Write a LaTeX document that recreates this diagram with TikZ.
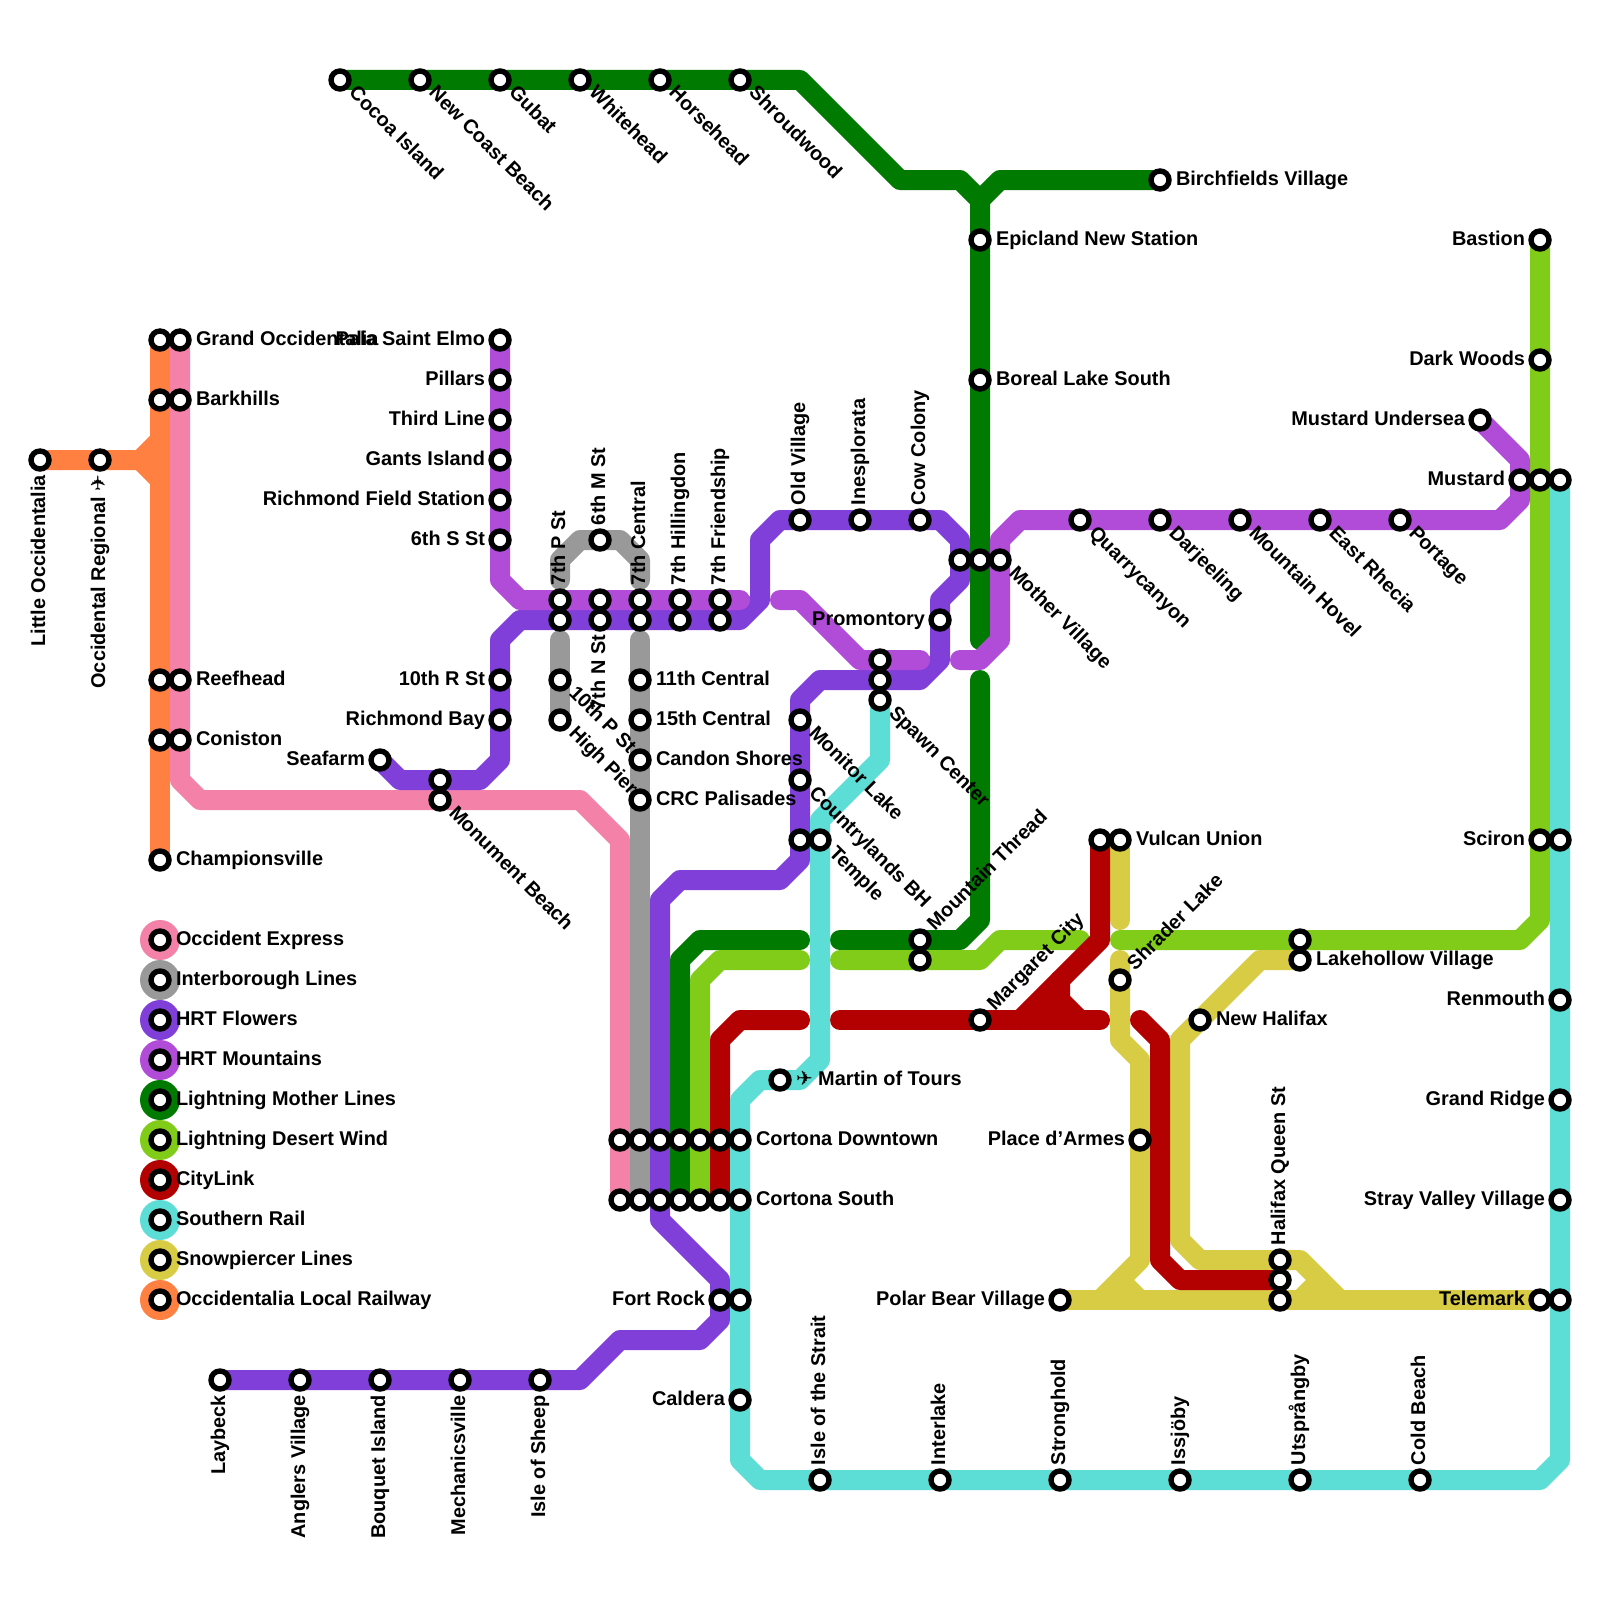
\documentclass[tikz,border=0pt]{standalone}
\usepackage{fontspec}
\setmainfont{Liberation Sans}
\newfontfamily\planefont{DejaVu Sans}
\usetikzlibrary{backgrounds}
\definecolor{cPink}{HTML}{F481A8}
\definecolor{cGray}{HTML}{999999}
\definecolor{cFlower}{HTML}{803FD8}
\definecolor{cMount}{HTML}{B14CD9}
\definecolor{cMother}{HTML}{007A00}
\definecolor{cDesert}{HTML}{80CC19}
\definecolor{cCity}{HTML}{B30000}
\definecolor{cSouth}{HTML}{5CDDD5}
\definecolor{cSnow}{HTML}{D8CC44}
\definecolor{cLocal}{HTML}{FF8040}
\newcommand{\planeglyph}{{\planefont\char"2708}}
\tikzset{
  stn/.style={circle,draw=black,fill=white,line width=5.4pt,minimum size=18pt,inner sep=0pt,outer sep=0pt},
  lbl/.style={font=\fontsize{19.9}{24}\selectfont\bfseries,inner sep=0pt,outer sep=0pt,text=black},
  lblR/.style={lbl,xshift=16pt,yshift=-5pt,anchor=base west},
  lblL/.style={lbl,xshift=-15pt,yshift=-5pt,anchor=base east},
  lblU/.style={lbl,xshift=5pt,yshift=15pt,rotate=90,anchor=base west},
  lblD/.style={lbl,xshift=5pt,yshift=-15pt,rotate=90,anchor=base east},
  lblDR/.style={lbl,xshift=8pt,yshift=-14pt,rotate=-45,anchor=base west},
  lblUR/.style={lbl,xshift=15pt,yshift=9pt,rotate=45,anchor=base west},
  route/.style={line width=20pt,line cap=round,line join=round},
  keydisc/.style={circle,minimum size=40pt,inner sep=0pt,outer sep=0pt},
}
\newcommand{\stlab}[5]{\node[stn] (#1) at (#2,#3) {};\node[#4] (#1-l) at (#1.center) {#5};}
\newcommand{\stopb}[3]{\node[stn] (#1) at (#2,#3) {};}
\newcommand{\keyitem}[4]{\node[keydisc,fill=#3] (#1-d) at (8,#2) {};\node[stn] (#1) at (8,#2) {};\node[lblR] (#1-l) at (#1.center) {#4};}
\begin{document}
\begin{tikzpicture}[x=20pt,y=-20pt]
\useasboundingbox (0,0) rectangle (80,80);
% ---- stations
\stlab{cocoa}{17}{4}{lblDR}{Cocoa Island}
\stlab{newcoast}{21}{4}{lblDR}{New Coast Beach}
\stlab{gubat}{25}{4}{lblDR}{Gubat}
\stlab{whitehead}{29}{4}{lblDR}{Whitehead}
\stlab{horsehead}{33}{4}{lblDR}{Horsehead}
\stlab{shroud}{37}{4}{lblDR}{Shroudwood}
\stlab{birch}{58}{9}{lblR}{Birchfields Village}
\stlab{epic}{49}{12}{lblR}{Epicland New Station}
\stlab{boreal}{49}{19}{lblR}{Boreal Lake South}
\stopb{motherF}{48}{28}
\stopb{motherG}{49}{28}
\stlab{motherM}{50}{28}{lblDR}{Mother Village}
\stlab{quarry}{54}{26}{lblDR}{Quarrycanyon}
\stlab{darj}{58}{26}{lblDR}{Darjeeling}
\stlab{hovel}{62}{26}{lblDR}{Mountain Hovel}
\stlab{rhecia}{66}{26}{lblDR}{East Rhecia}
\stlab{portage}{70}{26}{lblDR}{Portage}
\stlab{mustund}{74}{21}{lblL}{Mustard Undersea}
\stlab{mustM}{76}{24}{lblL}{Mustard}
\stopb{mustD}{77}{24}
\stopb{mustS}{78}{24}
\stlab{bastion}{77}{12}{lblL}{Bastion}
\stlab{dark}{77}{18}{lblL}{Dark Woods}
\stlab{scironD}{77}{42}{lblL}{Sciron}
\stopb{scironS}{78}{42}
\stlab{renmouth}{78}{50}{lblL}{Renmouth}
\stlab{gridge}{78}{55}{lblL}{Grand Ridge}
\stlab{stray}{78}{60}{lblL}{Stray Valley Village}
\stlab{telemS}{77}{65}{lblL}{Telemark}
\stopb{telemR}{78}{65}
\stopb{vulcanC}{55}{42}
\stlab{vulcanS}{56}{42}{lblR}{Vulcan Union}
\stlab{shrader}{56}{49}{lblUR}{Shrader Lake}
\stopb{lakeD}{65}{47}
\stlab{lakeS}{65}{48}{lblR}{Lakehollow Village}
\stlab{newhal}{60}{51}{lblR}{New Halifax}
\stlab{armes}{57}{57}{lblL}{Place d’Armes}
\stlab{queenS}{64}{63}{lblU}{Halifax Queen St}
\stopb{queenC}{64}{64}
\stopb{queenB}{64}{65}
\stlab{polar}{53}{65}{lblL}{Polar Bear Village}
\stlab{strait}{41}{74}{lblU}{Isle of the Strait}
\stlab{interl}{47}{74}{lblU}{Interlake}
\stlab{strong}{53}{74}{lblU}{Stronghold}
\stlab{issjo}{59}{74}{lblU}{Issjöby}
\stlab{utsp}{65}{74}{lblU}{Utsprångby}
\stlab{coldb}{71}{74}{lblU}{Cold Beach}
\stlab{caldera}{37}{70}{lblL}{Caldera}
\stlab{fortF}{36}{65}{lblL}{Fort Rock}
\stopb{fortS}{37}{65}
\stopb{cdP}{31}{57}\stopb{cdG}{32}{57}\stopb{cdF}{33}{57}\stopb{cdM}{34}{57}\stopb{cdW}{35}{57}\stopb{cdC}{36}{57}
\stlab{cdS}{37}{57}{lblR}{Cortona Downtown}
\stopb{csP}{31}{60}\stopb{csG}{32}{60}\stopb{csF}{33}{60}\stopb{csM}{34}{60}\stopb{csW}{35}{60}\stopb{csC}{36}{60}
\stlab{csS}{37}{60}{lblR}{Cortona South}
\stlab{martin}{39}{54}{lblR}{\planeglyph\ Martin of Tours}
\stopb{templeF}{40}{42}
\stlab{templeS}{41}{42}{lblDR}{Temple}
\stlab{country}{40}{39}{lblDR}{Countrylands BH}
\stlab{monitor}{40}{36}{lblDR}{Monitor Lake}
\stopb{spawnM}{44}{33}
\stopb{spawnF}{44}{34}
\stlab{spawnS}{44}{35}{lblDR}{Spawn Center}
\stlab{mthread}{46}{47}{lblUR}{Mountain Thread}
\stopb{mthreadW}{46}{48}
\stlab{margaret}{49}{51}{lblUR}{Margaret City}
\stlab{promont}{47}{31}{lblL}{Promontory}
\stlab{oldv}{40}{26}{lblU}{Old Village}
\stlab{inespl}{43}{26}{lblU}{Inesplorata}
\stlab{cowc}{46}{26}{lblU}{Cow Colony}
\stlab{frM}{36}{30}{lblU}{7th Friendship}
\stopb{frF}{36}{31}
\stlab{hiM}{34}{30}{lblU}{7th Hillingdon}
\stopb{hiF}{34}{31}
\stlab{cenM}{32}{30}{lblU}{7th Central}
\stopb{cenF}{32}{31}
\stlab{sixM}{30}{27}{lblU}{6th M St}
\stopb{nM}{30}{30}
\stlab{nF}{30}{31}{lblD}{7th N St}
\stlab{pM}{28}{30}{lblU}{7th P St}
\stopb{pF}{28}{31}
\stlab{tenP}{28}{34}{lblDR}{10th P St}
\stlab{pier}{28}{36}{lblDR}{High Pier}
\stlab{elev}{32}{34}{lblR}{11th Central}
\stlab{fift}{32}{36}{lblR}{15th Central}
\stlab{candon}{32}{38}{lblR}{Candon Shores}
\stlab{crc}{32}{40}{lblR}{CRC Palisades}
\stlab{pala}{25}{17}{lblL}{Pala Saint Elmo}
\stlab{pillars}{25}{19}{lblL}{Pillars}
\stlab{third}{25}{21}{lblL}{Third Line}
\stlab{gants}{25}{23}{lblL}{Gants Island}
\stlab{richf}{25}{25}{lblL}{Richmond Field Station}
\stlab{sixS}{25}{27}{lblL}{6th S St}
\stlab{tenR}{25}{34}{lblL}{10th R St}
\stlab{richb}{25}{36}{lblL}{Richmond Bay}
\stlab{seafarm}{19}{38}{lblL}{Seafarm}
\stopb{monF}{22}{39}
\stlab{monP}{22}{40}{lblDR}{Monument Beach}
\stopb{grandL}{8}{17}
\stlab{grandP}{9}{17}{lblR}{Grand Occidentalia}
\stopb{barkL}{8}{20}
\stlab{barkP}{9}{20}{lblR}{Barkhills}
\stopb{reefL}{8}{34}
\stlab{reefP}{9}{34}{lblR}{Reefhead}
\stopb{conL}{8}{37}
\stlab{conP}{9}{37}{lblR}{Coniston}
\stlab{champ}{8}{43}{lblR}{Championsville}
\stlab{little}{2}{23}{lblD}{Little Occidentalia}
\stlab{occreg}{5}{23}{lblD}{Occidental Regional \planeglyph}
\stlab{laybeck}{11}{69}{lblD}{Laybeck}
\stlab{anglers}{15}{69}{lblD}{Anglers Village}
\stlab{bouquet}{19}{69}{lblD}{Bouquet Island}
\stlab{mechan}{23}{69}{lblD}{Mechanicsville}
\stlab{sheep}{27}{69}{lblD}{Isle of Sheep}
% ---- legend
\keyitem{k1}{47}{cPink}{Occident Express}
\keyitem{k2}{49}{cGray}{Interborough Lines}
\keyitem{k3}{51}{cFlower}{HRT Flowers}
\keyitem{k4}{53}{cMount}{HRT Mountains}
\keyitem{k5}{55}{cMother}{Lightning Mother Lines}
\keyitem{k6}{57}{cDesert}{Lightning Desert Wind}
\keyitem{k7}{59}{cCity}{CityLink}
\keyitem{k8}{61}{cSouth}{Southern Rail}
\keyitem{k9}{63}{cSnow}{Snowpiercer Lines}
\keyitem{k10}{65}{cLocal}{Occidentalia Local Railway}
% ---- free line ends
\coordinate (gA) at (49,32); \coordinate (gB) at (49,34); \coordinate (gC) at (42,47); \coordinate (gD) at (40,47);
\coordinate (dA) at (40,48); \coordinate (dB) at (42,48); \coordinate (dC) at (54,47); \coordinate (dD) at (56,47);
\coordinate (rA) at (40,51); \coordinate (rB) at (42,51); \coordinate (rC) at (55,51); \coordinate (rD) at (57,51);
\coordinate (mA) at (37,30); \coordinate (mB) at (39,30); \coordinate (mC) at (46,33); \coordinate (mD) at (48,33);
\coordinate (iA) at (28,29); \coordinate (iB) at (32,29); \coordinate (iC) at (28,32); \coordinate (iD) at (32,32);
\coordinate (yA) at (56,46); \coordinate (yB) at (56,48);
% ---- lines
\begin{pgfonlayer}{background}
\fill[white] (0,0) rectangle (80,80);
% Occident Express
\draw[route,cPink] (grandP.center) -- (barkP.center) -- (reefP.center) -- (conP.center) -- (9,39) -- (10,40) -- (monP.center) -- (29,40) -- (31,42) -- (cdP.center) -- (csP.center);
% Interborough
\draw[route,cGray] (iA) -- (28,28) -- (29,27) -- (sixM.center) -- (31,27) -- (32,28) -- (iB);
\draw[route,cGray] (iC) -- (tenP.center) -- (pier.center);
\draw[route,cGray] (iD) -- (elev.center) -- (fift.center) -- (candon.center) -- (crc.center) -- (cdG.center) -- (csG.center);
% HRT Flowers
\draw[route,cFlower] (laybeck.center) -- (anglers.center) -- (bouquet.center) -- (mechan.center) -- (sheep.center) -- (29,69) -- (31,67) -- (35,67) -- (36,66) -- (fortF.center) -- (36,64) -- (33,61) -- (csF.center) -- (cdF.center) -- (33,45) -- (34,44) -- (39,44) -- (40,43) -- (templeF.center) -- (country.center) -- (monitor.center) -- (40,35) -- (41,34) -- (spawnF.center) -- (46,34) -- (47,33) -- (promont.center) -- (47,30) -- (48,29) -- (motherF.center) -- (48,27) -- (47,26) -- (cowc.center) -- (inespl.center) -- (oldv.center) -- (39,26) -- (38,27) -- (38,30) -- (37,31) -- (frF.center) -- (hiF.center) -- (cenF.center) -- (nF.center) -- (pF.center) -- (26,31) -- (25,32) -- (tenR.center) -- (richb.center) -- (25,38) -- (24,39) -- (monF.center) -- (20,39) -- (seafarm.center);
% Lightning Mother
\draw[route,cMother] (cocoa.center) -- (newcoast.center) -- (gubat.center) -- (whitehead.center) -- (horsehead.center) -- (shroud.center) -- (40,4) -- (45,9) -- (48,9) -- (49,10) -- (epic.center) -- (boreal.center) -- (motherG.center) -- (gA);
\draw[route,cMother] (49,10) -- (50,9) -- (birch.center);
\draw[route,cMother] (gB) -- (49,46) -- (48,47) -- (mthread.center) -- (gC);
\draw[route,cMother] (gD) -- (35,47) -- (34,48) -- (cdM.center) -- (csM.center);
% Lightning Desert Wind
\draw[route,cDesert] (csW.center) -- (cdW.center) -- (35,49) -- (36,48) -- (dA);
\draw[route,cDesert] (dB) -- (mthreadW.center) -- (49,48) -- (50,47) -- (dC);
\draw[route,cDesert] (dD) -- (lakeD.center) -- (76,47) -- (77,46) -- (scironD.center) -- (mustD.center) -- (dark.center) -- (bastion.center);
% HRT Mountains
\draw[route,cMount] (pala.center) -- (pillars.center) -- (third.center) -- (gants.center) -- (richf.center) -- (sixS.center) -- (25,29) -- (26,30) -- (pM.center) -- (nM.center) -- (cenM.center) -- (hiM.center) -- (frM.center) -- (mA);
\draw[route,cMount] (mB) -- (40,30) -- (43,33) -- (spawnM.center) -- (mC);
\draw[route,cMount] (mD) -- (49,33) -- (50,32) -- (motherM.center) -- (50,27) -- (51,26) -- (quarry.center) -- (darj.center) -- (hovel.center) -- (rhecia.center) -- (portage.center) -- (75,26) -- (76,25) -- (mustM.center) -- (76,23) -- (mustund.center);
% Snowpiercer
\draw[route,cSnow] (polar.center) -- (queenB.center) -- (telemS.center);
\draw[route,cSnow] (vulcanS.center) -- (yA);
\draw[route,cSnow] (yB) -- (shrader.center) -- (56,52) -- (57,53) -- (armes.center) -- (57,63) -- (55,65);
\draw[route,cSnow] (56,64) -- (57,65);
\draw[route,cSnow] (lakeS.center) -- (63,48) -- (newhal.center) -- (59,52) -- (59,62) -- (60,63) -- (queenS.center) -- (65,63) -- (67,65);
\draw[route,cSnow] (65,65) -- (66,64);
% CityLink
\draw[route,cCity] (csC.center) -- (cdC.center) -- (36,52) -- (37,51) -- (rA);
\draw[route,cCity] (rB) -- (margaret.center) -- (rC);
\draw[route,cCity] (vulcanC.center) -- (55,47) -- (51,51);
\draw[route,cCity] (53,49) -- (53,50) -- (54,51);
\draw[route,cCity] (52,51) -- (53,50);
\draw[route,cCity] (rD) -- (58,52) -- (58,63) -- (59,64) -- (queenC.center);
% Southern Rail
\draw[route,cSouth] (mustS.center) -- (scironS.center) -- (renmouth.center) -- (gridge.center) -- (stray.center) -- (telemR.center) -- (78,73) -- (77,74) -- (coldb.center) -- (utsp.center) -- (issjo.center) -- (strong.center) -- (interl.center) -- (strait.center) -- (38,74) -- (37,73) -- (caldera.center) -- (fortS.center) -- (csS.center) -- (cdS.center) -- (37,55) -- (38,54) -- (martin.center) -- (40,54) -- (41,53) -- (templeS.center) -- (41,41) -- (44,38) -- (spawnS.center);
% Occidentalia Local
\draw[route,cLocal] (little.center) -- (occreg.center) -- (7,23) -- (8,22);
\draw[route,cLocal] (7,23) -- (8,24);
\draw[route,cLocal] (grandL.center) -- (barkL.center) -- (reefL.center) -- (conL.center) -- (champ.center);
\end{pgfonlayer}
\end{tikzpicture}
\end{document}
